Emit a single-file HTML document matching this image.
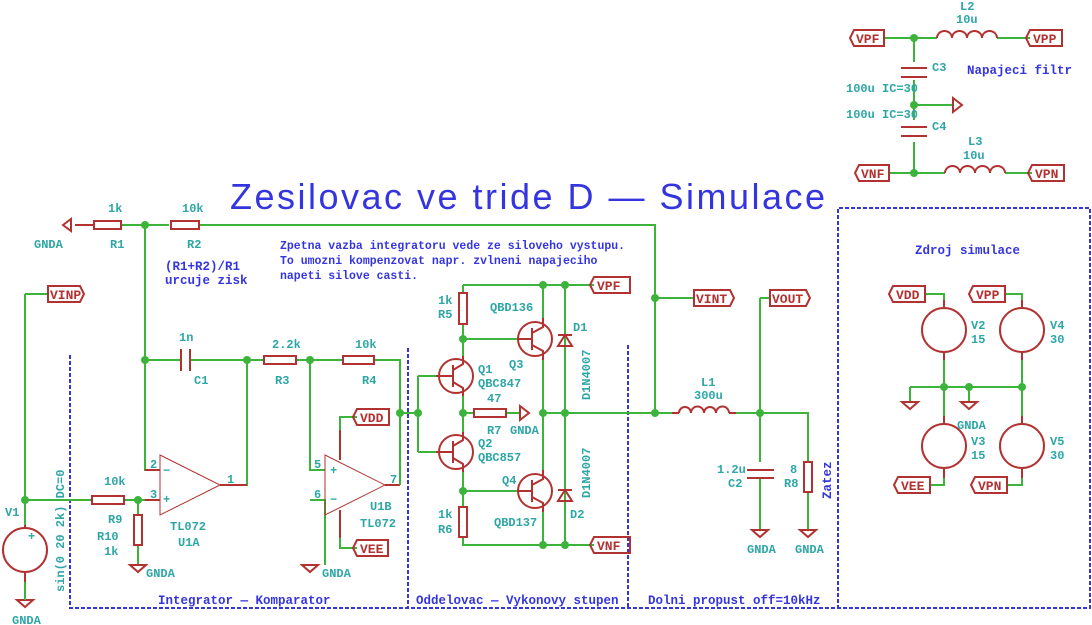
<!DOCTYPE html>
<html><head><meta charset="utf-8"><style>
html,body{margin:0;padding:0;background:#fff}
svg{display:block}
.w{stroke:#3cb43c;stroke-width:2;fill:none}
.c{stroke:#b23232;stroke-width:2;fill:none}
.ct{stroke:#b23232;stroke-width:1;fill:none}
.j{fill:#3cb43c}
.t{font-family:"Liberation Mono",monospace;font-weight:bold;font-size:12px;fill:#2ea6a6}
.b{font-family:"Liberation Mono",monospace;font-weight:bold;font-size:11.5px;fill:#3535e0}
.bb{font-family:"Liberation Mono",monospace;font-weight:bold;font-size:12.5px;fill:#3535e0}
.lab{font-family:"Liberation Mono",monospace;font-weight:bold;font-size:13px;fill:#b23232}
.d{stroke:#3535e0;stroke-width:2;stroke-dasharray:4,2;fill:none}
</style></head><body>
<svg width="1092" height="625" viewBox="0 0 1092 625" xmlns="http://www.w3.org/2000/svg">
<path class="d" d="M70 355V608H1090V208H838V608 M408 348V608 M628 345V608"/>
<text x="230" y="209" font-family="Liberation Sans,sans-serif" font-size="36" fill="#3535e0" textLength="595" lengthAdjust="spacing">Zesilovac ve tride D — Simulace</text>

<path class="w" d="M75 225H94 M121 225H169 M199 225H655V413"/>
<path class="c" d="M63 225l8-6v12z M75 225h19"/>
<rect class="c" x="94" y="221" width="27" height="8"/>
<rect class="c" x="171" y="221" width="28" height="8"/>
<circle class="j" cx="145" cy="225" r="4"/>
<text class="t" x="34" y="248">GNDA</text>
<text class="t" x="108" y="212">1k</text><text class="t" x="110" y="248">R1</text>
<text class="t" x="182" y="212">10k</text><text class="t" x="187" y="248">R2</text>
<text class="bb" x="165" y="270">(R1+R2)/R1</text><text class="bb" x="165" y="284">urcuje zisk</text>
<text class="b" x="280" y="249">Zpetna vazba integratoru vede ze siloveho vystupu.</text>
<text class="b" x="280" y="264">To umozni kompenzovat napr. zvlneni napajeciho</text>
<text class="b" x="280" y="279">napeti silove casti.</text>

<path class="w" d="M145 225V470H160 M145 360H181 M190 360H264 M296 360H343 M374 360H400V413H418 M247 360V485H220 M310 360V470H325 M310 500H325V565 M125 500H160 M25 500H92 M138 500V515 M138 545V565 M25 294H48 M25 294V525"/>
<path class="c" d="M181 349v22 M190 349v22"/>
<circle class="j" cx="145" cy="360" r="4"/><circle class="j" cx="247" cy="360" r="4"/><circle class="j" cx="310" cy="360" r="4"/>
<circle class="j" cx="400" cy="413" r="4"/><circle class="j" cx="418" cy="413" r="4"/>
<circle class="j" cx="25" cy="500" r="4"/><circle class="j" cx="138" cy="500" r="4"/>
<text class="t" x="179" y="341">1n</text><text class="t" x="194" y="384">C1</text>
<rect class="c" x="264" y="356" width="32" height="8"/><text class="t" x="272" y="348">2.2k</text><text class="t" x="275" y="384">R3</text>
<rect class="c" x="343" y="356" width="31" height="8"/><text class="t" x="355" y="348">10k</text><text class="t" x="362" y="384">R4</text>
<rect class="c" x="92" y="496" width="32" height="8"/><text class="t" x="104" y="485">10k</text><text class="t" x="108" y="523">R9</text>
<rect class="c" x="134" y="515" width="8" height="30"/><text class="t" x="97" y="540">R10</text><text class="t" x="104" y="555">1k</text>
<path class="c" d="M130 565h16l-8 7z M302 565h16l-8 7z M17 600h16l-8 7z"/>
<text class="t" x="146" y="577">GNDA</text><text class="t" x="322" y="577">GNDA</text><text class="t" x="12" y="624">GNDA</text>
<path class="ct" d="M160 455L220 485L160 515Z"/>
<path class="c" d="M145 470h15 M145 500h15 M220 485h27"/>
<text class="t" x="150" y="468">2</text><text class="t" x="150" y="498">3</text><text class="t" x="227" y="483">1</text>
<text class="t" x="163" y="474">−</text><text class="t" x="163" y="503">+</text>
<text class="t" x="170" y="530" font-size="13">TL072</text><text class="t" x="178" y="546" font-size="13">U1A</text>
<path class="ct" d="M325 455L385 485L325 515Z"/>
<path class="c" d="M385 485h15 M340 460V430 M340 510V538"/>
<path class="w" d="M400 485V413 M340 430V417H357 M340 538V548H357"/>
<text class="t" x="314" y="468">5</text><text class="t" x="314" y="498">6</text><text class="t" x="390" y="483">7</text>
<text class="t" x="330" y="474">+</text><text class="t" x="330" y="503">−</text>
<text class="t" x="370" y="510" font-size="13">U1B</text><text class="t" x="360" y="527" font-size="13">TL072</text>
<path class="c" d="M357 409h32v16h-32l-4-8z M357 540h31v16h-31l-4-8z"/>
<text class="lab" x="360" y="422">VDD</text><text class="lab" x="360" y="553">VEE</text>
<circle class="c" cx="25" cy="550" r="22"/>
<path class="c" d="M25 525v3 M25 572v10"/><path class="w" d="M25 582v18"/>
<text class="t" x="5" y="516">V1</text><text class="t" x="28" y="540">+</text>
<text class="t" x="0" y="0" transform="translate(64 592) rotate(-90)">sin(0 20 2k) DC=0</text>
<path class="c" d="M48 286h32l4 8-4 8h-32z"/><text class="lab" x="50" y="299">VINP</text>
<text class="bb" x="158" y="604">Integrator — Komparator</text>

<path class="w" d="M418 376V452 M418 376H436 M418 452H436 M463 285H594 M463 285V293 M463 324V360 M463 339H520 M463 393V435 M463 413H474 M506 413H520 M463 470V507 M463 491H520 M463 537V545H594 M543 285V322 M543 356V474 M543 508V545 M565 285V545 M543 413H672 M736 413H808V462 M808 492V530 M760 298V462 M760 478V530 M760 298H770 M655 298H694"/>
<rect class="c" x="459" y="293" width="8" height="31"/><rect class="c" x="459" y="507" width="8" height="30"/>
<rect class="c" x="474" y="409" width="32" height="8"/><path class="c" d="M520 406v14l9-7z"/>
<circle class="c" cx="456" cy="376" r="17"/><circle class="c" cx="456" cy="452" r="17"/>
<circle class="c" cx="535" cy="339" r="17"/><circle class="c" cx="535" cy="491" r="17"/>
<path class="c" d="M453 365v22 M436 376h17 M453 370l10-6V356 M453 382l10 6V396 M453 441v22 M436 452h17 M453 446l10-6V432 M453 458l10 6V472"/>
<path class="c" d="M532 328v22 M518 339h14 M532 333l11-6V318 M532 345l11 6V360 M532 480v22 M518 491h14 M532 485l11-6V470 M532 497l11 6V512"/>
<path class="c" d="M565 335l-7 11h14z M558 335h14 M565 490l-7 11h14z M558 490h14"/>
<g class="j"><circle cx="463" cy="339" r="4"/><circle cx="463" cy="413" r="4"/><circle cx="463" cy="491" r="4"/><circle cx="543" cy="285" r="4"/><circle cx="565" cy="285" r="4"/><circle cx="543" cy="413" r="4"/><circle cx="565" cy="413" r="4"/><circle cx="543" cy="545" r="4"/><circle cx="565" cy="545" r="4"/><circle cx="655" cy="413" r="4"/><circle cx="655" cy="298" r="4"/><circle cx="760" cy="413" r="4"/></g>
<path class="c" d="M594 277h36v16h-36l-4-8z M594 537h36v16h-36l-4-8z"/>
<text class="lab" x="597" y="290">VPF</text><text class="lab" x="597" y="550">VNF</text>
<text class="t" x="438" y="304">1k</text><text class="t" x="438" y="318">R5</text>
<text class="t" x="438" y="518">1k</text><text class="t" x="438" y="533">R6</text>
<text class="t" x="490" y="311">QBD136</text><text class="t" x="509" y="368">Q3</text>
<text class="t" x="478" y="373">Q1</text><text class="t" x="478" y="387">QBC847</text>
<text class="t" x="487" y="402">47</text><text class="t" x="487" y="434">R7</text><text class="t" x="510" y="434">GNDA</text>
<text class="t" x="478" y="447">Q2</text><text class="t" x="478" y="461">QBC857</text>
<text class="t" x="502" y="484">Q4</text><text class="t" x="494" y="526">QBD137</text>
<text class="t" x="573" y="331" font-size="13">D1</text><text class="t" x="570" y="518" font-size="13">D2</text>
<text class="t" x="0" y="0" transform="translate(590 400) rotate(-90)" font-size="13">D1N4007</text>
<text class="t" x="0" y="0" transform="translate(590 498) rotate(-90)" font-size="13">D1N4007</text>
<text class="bb" x="416" y="604">Oddelovac — Vykonovy stupen</text>
<path class="c" d="M672 413h7 M729 413h7 M679 413a6 6 0 0 1 12 0a6 6 0 0 1 13 0a6 6 0 0 1 12 0a6 6 0 0 1 13 0"/>
<text class="t" x="701" y="386">L1</text><text class="t" x="694" y="399">300u</text>
<path class="c" d="M747 470h27 M747 478h27"/>
<text class="t" x="717" y="473">1.2u</text><text class="t" x="728" y="487">C2</text>
<rect class="c" x="804" y="462" width="8" height="30"/><text class="t" x="790" y="473">8</text><text class="t" x="784" y="487">R8</text>
<text class="bb" x="0" y="0" transform="translate(831 499) rotate(-90)">Zatez</text>
<path class="c" d="M752 530h16l-8 7z M800 530h16l-8 7z"/>
<text class="t" x="747" y="553">GNDA</text><text class="t" x="795" y="553">GNDA</text>
<path class="c" d="M694 290h36l4 8-4 8h-36z M770 290h36l4 8-4 8h-36z"/>
<text class="lab" x="696" y="303">VINT</text><text class="lab" x="772" y="303">VOUT</text>
<text class="bb" x="648" y="604">Dolni propust off=10kHz</text>

<path class="w" d="M884 38H937 M997 38H1030 M914 38V62 M914 80V120 M914 142V173 M889 173H945 M1005 173H1032 M914 105H953"/>
<g class="j"><circle cx="914" cy="38" r="4"/><circle cx="914" cy="105" r="4"/><circle cx="914" cy="173" r="4"/></g>
<path class="c" d="M901 68h26 M901 77h26 M901 127h26 M901 136h26 M953 98v14l9-7z"/>
<path class="c" d="M937 38a7.5 7 0 0 1 15 0a7.5 7 0 0 1 15 0a7.5 7 0 0 1 15 0a7.5 7 0 0 1 15 0 M945 173a7.5 7 0 0 1 15 0a7.5 7 0 0 1 15 0a7.5 7 0 0 1 15 0a7.5 7 0 0 1 15 0"/>
<path class="c" d="M854 30h30v16h-30l-4-8z M1030 30h32v16h-32l-4-8z M859 165h30v16h-30l-4-8z M1032 165h32v16h-32l-4-8z"/>
<text class="lab" x="856" y="43">VPF</text><text class="lab" x="1033" y="43">VPP</text>
<text class="lab" x="861" y="178">VNF</text><text class="lab" x="1035" y="178">VPN</text>
<text class="t" x="960" y="10">L2</text><text class="t" x="956" y="23">10u</text>
<text class="t" x="968" y="145">L3</text><text class="t" x="963" y="159">10u</text>
<text class="t" x="932" y="71">C3</text><text class="t" x="932" y="130">C4</text>
<text class="t" x="846" y="92">100u IC=30</text><text class="t" x="846" y="118">100u IC=30</text>
<text class="bb" x="967" y="74">Napajeci filtr</text>

<text class="bb" x="915" y="254">Zdroj simulace</text>
<path class="w" d="M925 294H944V300 M1005 294H1022V300 M944 360V424 M1022 360V424 M910 387H1022 M910 387V402 M969 387V402 M930 485H944V478 M1007 485H1022V478"/>
<g class="j"><circle cx="944" cy="387" r="4"/><circle cx="969" cy="387" r="4"/><circle cx="1022" cy="387" r="4"/></g>
<g class="c"><circle cx="944" cy="330" r="22"/><circle cx="1022" cy="330" r="22"/><circle cx="944" cy="446" r="22"/><circle cx="1022" cy="446" r="22"/>
<path d="M944 300v8 M944 352v8 M1022 300v8 M1022 352v8 M944 416v8 M944 468v10 M1022 416v8 M1022 468v10 M902 402h16l-8 7z M961 402h16l-8 7z"/>
<path d="M893 286h32v16h-32l-4-8z M973 286h32v16h-32l-4-8z M898 477h32v16h-32l-4-8z M975 477h32v16h-32l-4-8z"/></g>
<text class="lab" x="896" y="299">VDD</text><text class="lab" x="976" y="299">VPP</text>
<text class="lab" x="901" y="490">VEE</text><text class="lab" x="978" y="490">VPN</text>
<text class="t" x="971" y="329">V2</text><text class="t" x="971" y="343">15</text>
<text class="t" x="1050" y="329">V4</text><text class="t" x="1050" y="343">30</text>
<text class="t" x="957" y="429">GNDA</text>
<text class="t" x="971" y="445">V3</text><text class="t" x="971" y="459">15</text>
<text class="t" x="1050" y="445">V5</text><text class="t" x="1050" y="459">30</text>
</svg>
</body></html>
